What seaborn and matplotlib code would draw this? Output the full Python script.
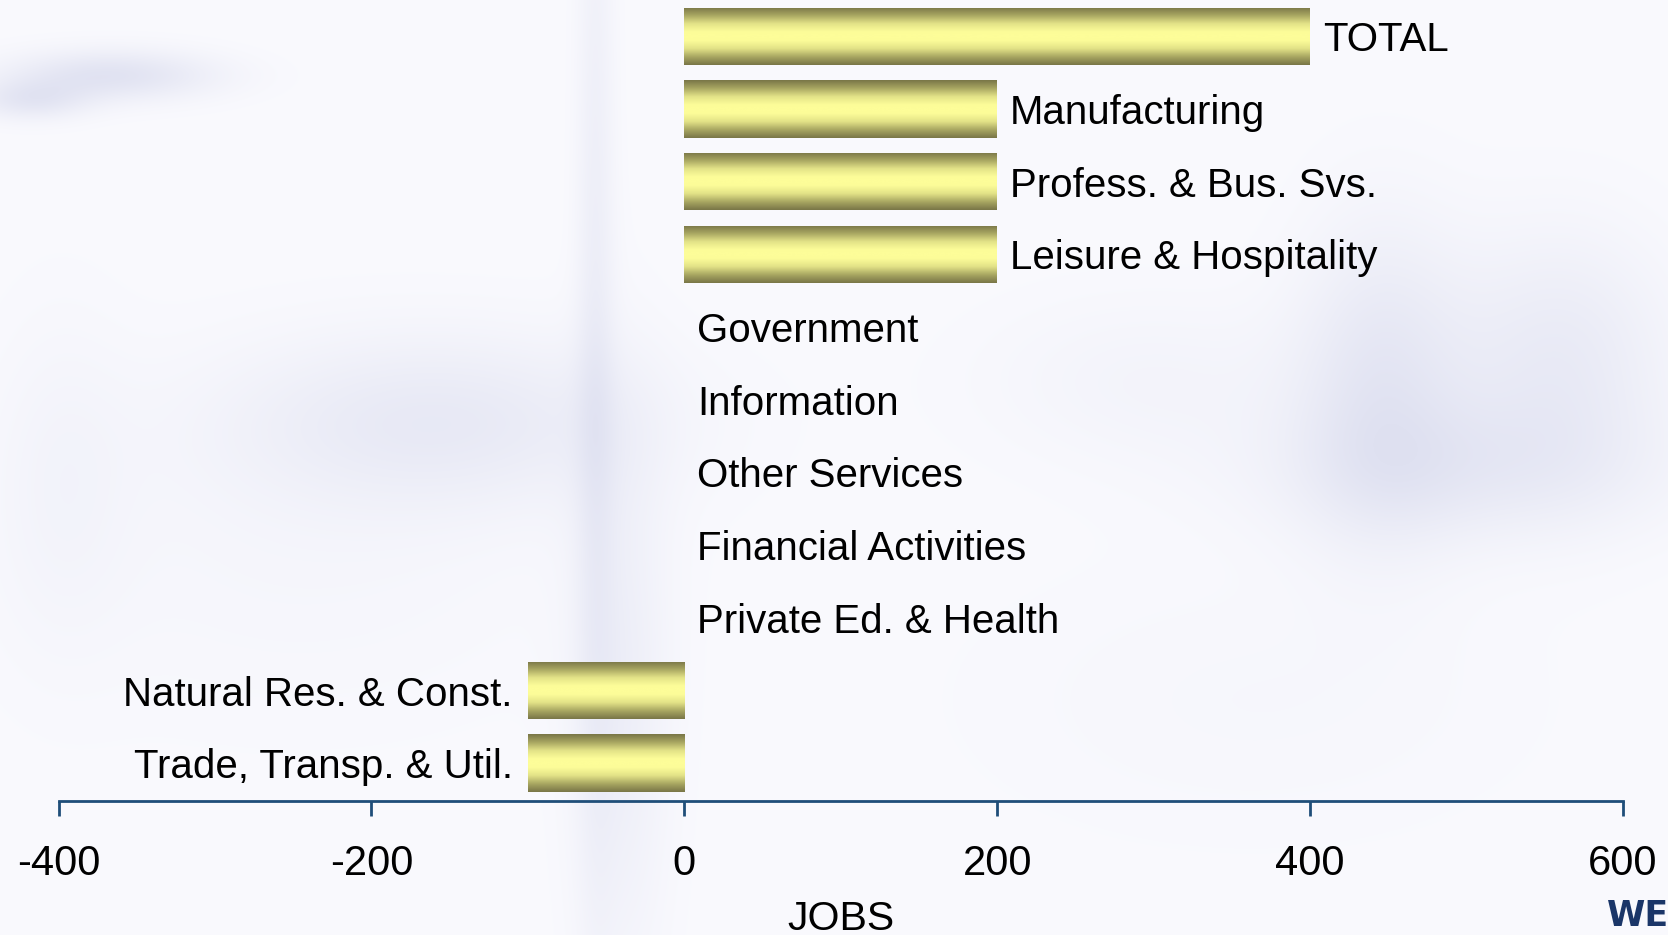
import numpy as np
import pandas as pd
import matplotlib
matplotlib.use("Agg")
import matplotlib.pyplot as plt
import seaborn as sns
from matplotlib.colors import LinearSegmentedColormap

# ---- data ----
categories = ["TOTAL", "Manufacturing", "Profess. & Bus. Svs.", "Leisure & Hospitality",
              "Government", "Information", "Other Services", "Financial Activities",
              "Private Ed. & Health", "Natural Res. & Const.", "Trade, Transp. & Util."]
jobs = [400, 200, 200, 200, 0, 0, 0, 0, 0, -100, -100]
x_ticks = [-400, -200, 0, 200, 400, 600]
x_label = "JOBS"
logo_text = "WE"

sns.set_theme(style="white")
plt.rcParams["font.family"] = ["Liberation Sans", "DejaVu Sans"]

W, H, DPI = 1668, 935, 100
fig = plt.figure(figsize=(W / DPI, H / DPI), dpi=DPI)

# ---- soft blurred background ----
bg_ax = fig.add_axes([0, 0, 1, 1], zorder=-10)
yy, xx = np.mgrid[0:H, 0:W]
blobs = [  # cx, cy, sx, sy, strength (pixels)
    (110, 75, 75, 18, 0.45),
    (30, 100, 40, 14, 0.35),
    (595, 300, 14, 400, 0.22),
    (440, 420, 150, 60, 0.30),
    (620, 700, 35, 200, 0.22),
    (1380, 380, 60, 110, 0.35),
    (1560, 360, 80, 90, 0.30),
    (1460, 470, 140, 50, 0.25),
    (1150, 380, 120, 60, 0.12),
    (300, 550, 200, 120, 0.08),
    (1250, 700, 200, 100, 0.06),
    (60, 480, 50, 120, 0.10),
]
I = np.zeros((H, W))
for cx, cy, sx, sy, s in blobs:
    I += s * np.exp(-(((xx - cx) / sx) ** 2 + ((yy - cy) / sy) ** 2) / 2)
I = np.clip(I, 0, 1)[..., None]
base = np.array([250, 250, 254]) / 255
tint = np.array([196, 200, 228]) / 255
bg_ax.imshow(base * (1 - I) + tint * I, extent=[0, 1, 0, 1], origin="upper", aspect="auto")
bg_ax.axis("off")

# ---- main axes ----
ax = fig.add_axes([58.5 / W, 1 - 801 / H, (1623 - 58.5) / W, 801 / H])
ax.patch.set_alpha(0)

df = pd.DataFrame({"category": categories, "jobs": jobs})
sns.barplot(data=df, x="jobs", y="category", order=categories, orient="h",
            width=0.79, color="#c8c778", edgecolor="none", saturation=1, ax=ax)

cmap = LinearSegmentedColormap.from_list(
    "gold", ["#787547", "#a9a762", "#e3e388", "#fdfd99", "#fdfd99", "#e3e388", "#a9a762", "#787547"])
grad = np.linspace(0, 1, 256).reshape(-1, 1)
for p in list(ax.patches):
    w = p.get_width()
    if w == 0:
        continue
    x0, y0, h = p.get_x(), p.get_y(), p.get_height()
    im = ax.imshow(grad, cmap=cmap, extent=[x0, x0 + w, y0 + h, y0], aspect="auto",
                   zorder=3, interpolation="bicubic")
    im.set_clip_path(p)

# labels next to bars
FS = 29
for i, (c, v) in enumerate(zip(categories, jobs)):
    if v >= 0:
        ax.annotate(c, xy=(v, i), xytext=(13, -4), textcoords="offset pixels",
                    ha="left", va="center", fontsize=FS, color="black")
    else:
        ax.annotate(c, xy=(v, i), xytext=(-15, -4), textcoords="offset pixels",
                    ha="right", va="center", fontsize=FS, color="black")

navy = "#1f4e79"
ax.set_xlim(-400, 600)
ax.set_ylim(10.52, -0.5)
ax.set_xticks(x_ticks)
ax.set_xticklabels([str(t) for t in x_ticks])
ax.tick_params(axis="x", direction="out", length=11, width=2, color=navy,
               labelsize=30, pad=20, bottom=True, labelcolor="black")
ax.tick_params(axis="y", left=False, labelleft=False)
ax.set_ylabel("")
for s in ["left", "top", "right"]:
    ax.spines[s].set_visible(False)
ax.spines["bottom"].set_color(navy)
ax.spines["bottom"].set_linewidth(2)
ax.grid(False)

ax.set_xlabel(x_label, fontsize=29.5, color="black")
ax.xaxis.set_label_coords(0.5, -0.147)
ax.xaxis.label.set_va("center")

fig.text(1607 / W, 1 - 926 / H, logo_text, fontsize=25, fontweight="black",
         color="#1b3668", ha="left", va="baseline", family=["DejaVu Sans"])

fig.savefig("out.png", dpi=DPI)
